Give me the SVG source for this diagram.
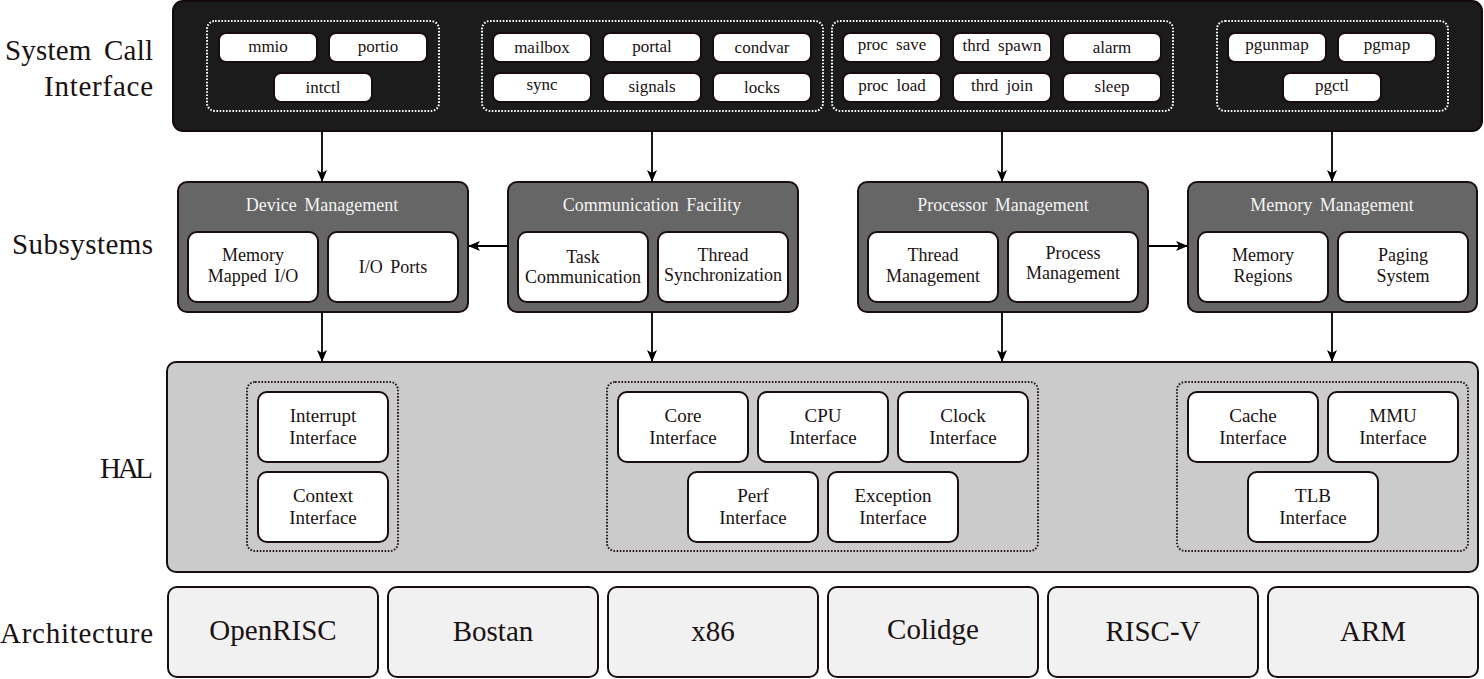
<svg xmlns="http://www.w3.org/2000/svg" width="1484" height="679" viewBox="0 0 1484 679">
<style>
text{font-family:"Liberation Serif","Times New Roman",serif;text-anchor:middle;fill:#1a1212}
.lbl{font-size:29px;text-anchor:end;word-spacing:5px}
.pill{fill:#fff;stroke:#1a0d0d;stroke-width:2}
.pt{font-size:17px;word-spacing:4px}
.top{fill:#1b1b1b;stroke:#140a0a;stroke-width:2}
.dotw{fill:none;stroke:#fff;stroke-width:2;stroke-dasharray:1.6 1.6}
.dotk{fill:none;stroke:#2a1a1a;stroke-width:2;stroke-dasharray:1.6 1.6}
.sub{fill:#666;stroke:#1a0d0d;stroke-width:2}
.hdr{font-size:18px;fill:#f4f4f4;word-spacing:3px}
.box{fill:#fff;stroke:#1a0d0d;stroke-width:2}
.st{font-size:18px;word-spacing:3px}
.hal{fill:#cbcbcb;stroke:#1a0d0d;stroke-width:2}
.ht{font-size:19px}
.arch{fill:#f1f1f1;stroke:#1a0d0d;stroke-width:2}
.at{font-size:29px}
.conn line{stroke:#000;stroke-width:1.8;marker-end:url(#ah)}
</style>
<defs>
<marker id="ah" viewBox="0 0 12 10" refX="11" refY="5" markerWidth="12" markerHeight="10" markerUnits="userSpaceOnUse" orient="auto">
<path d="M0,0 L12,5 L0,10 L3,5 z" fill="#000"/>
</marker>
</defs>

<g id="labels">
<text class="lbl" x="153" y="60" textLength="148">System Call</text>
<text class="lbl" x="153" y="96" textLength="109">Interface</text>
<text class="lbl" x="153" y="254" textLength="141">Subsystems</text>
<text class="lbl" x="153" y="478" textLength="53">HAL</text>
<text class="lbl" x="153" y="643" textLength="153">Architecture</text>
</g>

<g id="syscall">
<rect class="top" x="173" y="1" width="1309" height="130" rx="10"/>
<rect class="dotw" x="207" y="21" width="232" height="90" rx="8"/>
<rect class="dotw" x="482" y="21" width="341" height="90" rx="8"/>
<rect class="dotw" x="832" y="21" width="341" height="90" rx="8"/>
<rect class="dotw" x="1217" y="21" width="231" height="90" rx="8"/>
<g id="sc-mmio"><rect class="pill" x="219" y="33" width="98" height="29" rx="7"/><text class="pt" x="268" y="52">mmio</text></g>
<g id="sc-portio"><rect class="pill" x="329" y="33" width="98" height="29" rx="7"/><text class="pt" x="378" y="52">portio</text></g>
<g id="sc-intctl"><rect class="pill" x="274" y="73" width="98" height="29" rx="7"/><text class="pt" x="323" y="93">intctl</text></g>
<g id="sc-mailbox"><rect class="pill" x="493" y="33" width="98" height="29" rx="7"/><text class="pt" x="542" y="53">mailbox</text></g>
<g id="sc-portal"><rect class="pill" x="603" y="33" width="98" height="29" rx="7"/><text class="pt" x="652" y="52">portal</text></g>
<g id="sc-condvar"><rect class="pill" x="713" y="33" width="98" height="29" rx="7"/><text class="pt" x="762" y="53">condvar</text></g>
<g id="sc-sync"><rect class="pill" x="493" y="73" width="98" height="29" rx="7"/><text class="pt" x="542" y="90">sync</text></g>
<g id="sc-signals"><rect class="pill" x="603" y="73" width="98" height="29" rx="7"/><text class="pt" x="652" y="92">signals</text></g>
<g id="sc-locks"><rect class="pill" x="713" y="73" width="98" height="29" rx="7"/><text class="pt" x="762" y="93">locks</text></g>
<g id="sc-procsave"><rect class="pill" x="843" y="33" width="98" height="29" rx="7"/><text class="pt" x="892" y="50">proc save</text></g>
<g id="sc-thrdspawn"><rect class="pill" x="953" y="33" width="98" height="29" rx="7"/><text class="pt" x="1002" y="51">thrd spawn</text></g>
<g id="sc-alarm"><rect class="pill" x="1063" y="33" width="98" height="29" rx="7"/><text class="pt" x="1112" y="53">alarm</text></g>
<g id="sc-procload"><rect class="pill" x="843" y="73" width="98" height="29" rx="7"/><text class="pt" x="892" y="91">proc load</text></g>
<g id="sc-thrdjoin"><rect class="pill" x="953" y="73" width="98" height="29" rx="7"/><text class="pt" x="1002" y="91">thrd join</text></g>
<g id="sc-sleep"><rect class="pill" x="1063" y="73" width="98" height="29" rx="7"/><text class="pt" x="1112" y="92">sleep</text></g>
<g id="sc-pgunmap"><rect class="pill" x="1228" y="33" width="98" height="29" rx="7"/><text class="pt" x="1277" y="50">pgunmap</text></g>
<g id="sc-pgmap"><rect class="pill" x="1338" y="33" width="98" height="29" rx="7"/><text class="pt" x="1387" y="50">pgmap</text></g>
<g id="sc-pgctl"><rect class="pill" x="1283" y="73" width="98" height="29" rx="7"/><text class="pt" x="1332" y="91">pgctl</text></g>
</g>

<g id="device-management">
<rect class="sub" x="178" y="182" width="290" height="130" rx="9"/>
<text class="hdr" x="322" y="211">Device Management</text>
<rect class="box" x="188" y="232" width="130" height="70" rx="9"/>
<text class="st" x="253" y="261">Memory</text><text class="st" x="253" y="282">Mapped I/O</text>
<rect class="box" x="328" y="232" width="130" height="70" rx="9"/>
<text class="st" x="393" y="273">I/O Ports</text>
</g>
<g id="communication-facility">
<rect class="sub" x="508" y="182" width="290" height="130" rx="9"/>
<text class="hdr" x="652" y="211">Communication Facility</text>
<rect class="box" x="518" y="232" width="130" height="70" rx="9"/>
<text class="st" x="583" y="263">Task</text><text class="st" x="583" y="283">Communication</text>
<rect class="box" x="658" y="232" width="130" height="70" rx="9"/>
<text class="st" x="723" y="261">Thread</text><text class="st" x="723" y="281">Synchronization</text>
</g>
<g id="processor-management">
<rect class="sub" x="858" y="182" width="290" height="130" rx="9"/>
<text class="hdr" x="1003" y="211">Processor Management</text>
<rect class="box" x="868" y="232" width="130" height="70" rx="9"/>
<text class="st" x="933" y="261">Thread</text><text class="st" x="933" y="282">Management</text>
<rect class="box" x="1008" y="232" width="130" height="70" rx="9"/>
<text class="st" x="1073" y="259">Process</text><text class="st" x="1073" y="279">Management</text>
</g>
<g id="memory-management">
<rect class="sub" x="1188" y="182" width="289" height="130" rx="9"/>
<text class="hdr" x="1332" y="211">Memory Management</text>
<rect class="box" x="1198" y="232" width="130" height="70" rx="9"/>
<text class="st" x="1263" y="261">Memory</text><text class="st" x="1263" y="282">Regions</text>
<rect class="box" x="1338" y="232" width="130" height="70" rx="9"/>
<text class="st" x="1403" y="261">Paging</text><text class="st" x="1403" y="282">System</text>
</g>

<g id="hal">
<rect class="hal" x="167" y="362" width="1311" height="210" rx="9"/>
<rect class="dotk" x="247" y="382" width="151" height="169" rx="8"/>
<rect class="dotk" x="607" y="382" width="431" height="169" rx="8"/>
<rect class="dotk" x="1177" y="382" width="291" height="169" rx="8"/>
<g id="hal-interrupt"><rect class="box" x="258" y="392" width="130" height="70" rx="9"/><text class="ht" x="323" y="422">Interrupt</text><text class="ht" x="323" y="444">Interface</text></g>
<g id="hal-context"><rect class="box" x="258" y="472" width="130" height="70" rx="9"/><text class="ht" x="323" y="502">Context</text><text class="ht" x="323" y="524">Interface</text></g>
<g id="hal-core"><rect class="box" x="618" y="392" width="130" height="70" rx="9"/><text class="ht" x="683" y="422">Core</text><text class="ht" x="683" y="444">Interface</text></g>
<g id="hal-cpu"><rect class="box" x="758" y="392" width="130" height="70" rx="9"/><text class="ht" x="823" y="422">CPU</text><text class="ht" x="823" y="444">Interface</text></g>
<g id="hal-clock"><rect class="box" x="898" y="392" width="130" height="70" rx="9"/><text class="ht" x="963" y="422">Clock</text><text class="ht" x="963" y="444">Interface</text></g>
<g id="hal-perf"><rect class="box" x="688" y="472" width="130" height="70" rx="9"/><text class="ht" x="753" y="502">Perf</text><text class="ht" x="753" y="524">Interface</text></g>
<g id="hal-exception"><rect class="box" x="828" y="472" width="130" height="70" rx="9"/><text class="ht" x="893" y="502">Exception</text><text class="ht" x="893" y="524">Interface</text></g>
<g id="hal-cache"><rect class="box" x="1188" y="392" width="130" height="70" rx="9"/><text class="ht" x="1253" y="422">Cache</text><text class="ht" x="1253" y="444">Interface</text></g>
<g id="hal-mmu"><rect class="box" x="1328" y="392" width="130" height="70" rx="9"/><text class="ht" x="1393" y="422">MMU</text><text class="ht" x="1393" y="444">Interface</text></g>
<g id="hal-tlb"><rect class="box" x="1248" y="472" width="130" height="70" rx="9"/><text class="ht" x="1313" y="502">TLB</text><text class="ht" x="1313" y="524">Interface</text></g>
</g>

<g id="architectures">
<g id="arch-openrisc"><rect class="arch" x="168" y="587" width="210" height="90" rx="9"/><text class="at" x="273" y="640">OpenRISC</text></g>
<g id="arch-bostan"><rect class="arch" x="388" y="587" width="210" height="90" rx="9"/><text class="at" x="493" y="641">Bostan</text></g>
<g id="arch-x86"><rect class="arch" x="608" y="587" width="210" height="90" rx="9"/><text class="at" x="713" y="641">x86</text></g>
<g id="arch-colidge"><rect class="arch" x="828" y="587" width="210" height="90" rx="9"/><text class="at" x="933" y="639">Colidge</text></g>
<g id="arch-riscv"><rect class="arch" x="1048" y="587" width="210" height="90" rx="9"/><text class="at" x="1153" y="641">RISC-V</text></g>
<g id="arch-arm"><rect class="arch" x="1268" y="587" width="210" height="90" rx="9"/><text class="at" x="1373" y="641">ARM</text></g>
</g>

<g class="conn" id="connectors">
<line x1="322" y1="131" x2="322" y2="181"/>
<line x1="652" y1="131" x2="652" y2="181"/>
<line x1="1002" y1="131" x2="1002" y2="181"/>
<line x1="1332" y1="131" x2="1332" y2="181"/>
<line x1="322" y1="312" x2="322" y2="361"/>
<line x1="652" y1="312" x2="652" y2="361"/>
<line x1="1002" y1="312" x2="1002" y2="361"/>
<line x1="1332" y1="312" x2="1332" y2="361"/>
<line x1="508" y1="246" x2="469" y2="246"/>
<line x1="1148" y1="246" x2="1187" y2="246"/>
</g>
</svg>
